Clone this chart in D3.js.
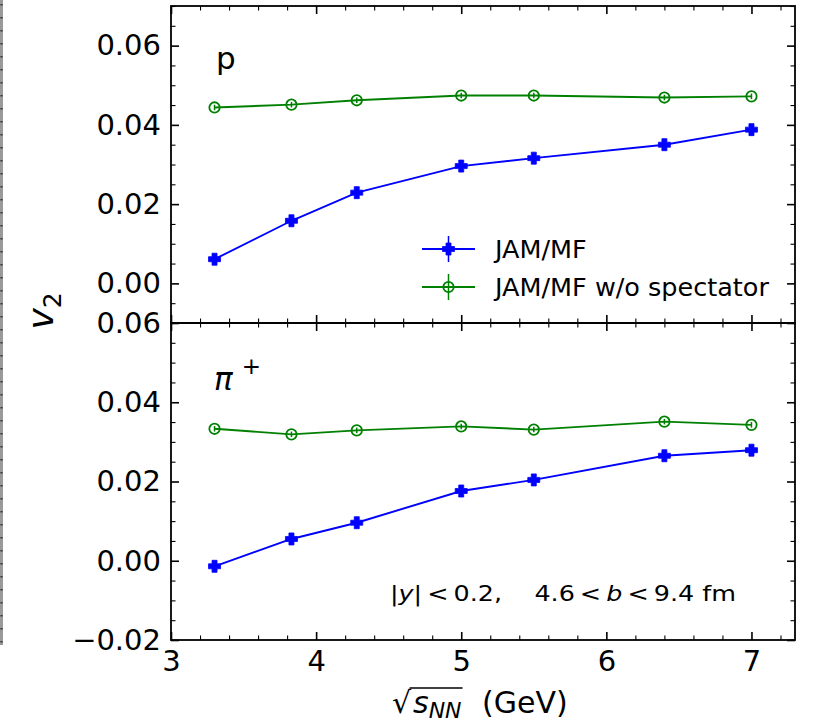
<!DOCTYPE html>
<html><head><meta charset="utf-8">
<script src="https://cdn.jsdelivr.net/npm/d3@7"></script>
<style>body{margin:0;background:#fff} text{font-family:"DejaVu Sans",sans-serif;fill:#000;white-space:pre}</style>
</head><body><svg id="c" width="813" height="725"></svg>
<script>
// ---- data ----
const energies = [3.3, 3.83, 4.28, 5.0, 5.5, 6.4, 7.0];
const protonMF = [0.0061, 0.0158, 0.0229, 0.0296, 0.0316, 0.0350, 0.0388];
const protonNoSpec = [0.0444, 0.0451, 0.0462, 0.0474, 0.0474, 0.0469, 0.0472];
const pionMF = [-0.0014, 0.0055, 0.0096, 0.0176, 0.0204, 0.0265, 0.0279];
const pionNoSpec = [0.0333, 0.0319, 0.0329, 0.0339, 0.0331, 0.0351, 0.0343];
const errProtonMF = [0.0006, 0.0006, 0.0006, 0.0006, 0.0006, 0.0006, 0.0006];
const errProtonNoSpec = [0.0007, 0.0007, 0.0007, 0.0007, 0.0007, 0.0007, 0.0007];
const errPionMF = [0.0006, 0.0006, 0.0006, 0.0006, 0.0006, 0.0006, 0.0006];
const errPionNoSpec = [0.0007, 0.0007, 0.0007, 0.0007, 0.0007, 0.0007, 0.0007];
const xTicks = [3, 4, 5, 6, 7];
const yTicksTop = [0.00, 0.02, 0.04, 0.06];
const yTicksBottom = [-0.02, 0.00, 0.02, 0.04, 0.06];
const seriesNames = ["JAM/MF", "JAM/MF w/o spectator"];
const blue = "#0000ff", green = "#008000";

const svg = d3.select("#c");
const L = 171, R = 795, T = 6, M = 323, B = 640;

const x = d3.scaleLinear().domain([3, 7.3]).range([L, R]);
const yTop = d3.scaleLinear().domain([-0.01, 0.07]).range([M, T]);
const yBot = d3.scaleLinear().domain([-0.02, 0.06]).range([B, M]);

// left page-edge gray line
svg.append("line").attr("x1", 1.5).attr("x2", 1.5).attr("y1", 0).attr("y2", 645)
  .attr("stroke", "#9a9a9a").attr("stroke-width", 3);
svg.append("line").attr("x1", 1.5).attr("x2", 1.5).attr("y1", 4).attr("y2", 645)
  .attr("stroke", "#333").attr("stroke-width", 2).attr("stroke-dasharray", "1.5,11.5");

const fmt = d3.format(".2f");
const fmtMinus = v => fmt(v).replace("-", "\u2212");

function styleAxis(g, major) {
  g.select(".domain").remove();
  g.selectAll(".tick line").attr("stroke", "#000").attr("stroke-width", major ? 1.6 : 1.1);
  g.selectAll(".tick text").attr("font-size", 29).attr("font-family", "DejaVu Sans").attr("fill", "#000");
}

function panel(y, yTicks, showXLabels) {
  const [y0, y1] = y.range();
  const minorY = d3.range(Math.round(y.domain()[0] / 0.005), Math.round(y.domain()[1] / 0.005) + 1)
    .map(i => i * 0.005).filter(v => !yTicks.some(t => Math.abs(t - v) < 1e-9));
  const minorX = d3.range(15, 37).map(i => i * 0.2).filter(v => Math.abs(v - Math.round(v)) > 1e-9);
  svg.append("g").attr("transform", `translate(${L},0)`)
    .call(d3.axisLeft(y).tickValues(yTicks).tickSize(-8).tickSizeOuter(0).tickPadding(10).tickFormat(fmtMinus))
    .call(g => styleAxis(g, true));
  svg.append("g").attr("transform", `translate(${L},0)`)
    .call(d3.axisLeft(y).tickValues(minorY).tickSize(-4.5).tickSizeOuter(0).tickFormat(""))
    .call(g => styleAxis(g, false));
  svg.append("g").attr("transform", `translate(${R},0)`)
    .call(d3.axisRight(y).tickValues(yTicks).tickSize(-8).tickSizeOuter(0).tickFormat(""))
    .call(g => styleAxis(g, true));
  svg.append("g").attr("transform", `translate(${R},0)`)
    .call(d3.axisRight(y).tickValues(minorY).tickSize(-4.5).tickSizeOuter(0).tickFormat(""))
    .call(g => styleAxis(g, false));
  svg.append("g").attr("transform", `translate(0,${y0})`)
    .call(d3.axisBottom(x).tickValues(xTicks).tickSize(-8).tickSizeOuter(0).tickPadding(10)
      .tickFormat(showXLabels ? d3.format("d") : ""))
    .call(g => styleAxis(g, true));
  svg.append("g").attr("transform", `translate(0,${y0})`)
    .call(d3.axisBottom(x).tickValues(minorX).tickSize(-4.5).tickSizeOuter(0).tickFormat(""))
    .call(g => styleAxis(g, false));
  svg.append("g").attr("transform", `translate(0,${y1})`)
    .call(d3.axisTop(x).tickValues(xTicks).tickSize(-8).tickSizeOuter(0).tickFormat(""))
    .call(g => styleAxis(g, true));
  svg.append("g").attr("transform", `translate(0,${y1})`)
    .call(d3.axisTop(x).tickValues(minorX).tickSize(-4.5).tickSizeOuter(0).tickFormat(""))
    .call(g => styleAxis(g, false));
  svg.append("rect").attr("x", L).attr("y", y1).attr("width", R - L).attr("height", y0 - y1)
    .attr("fill", "none").attr("stroke", "#000").attr("stroke-width", 1.8);
}

const plusPath = (s, w) => {
  const a = s / 2, b = w / 2;
  return `M${-b},${-a}H${b}V${-b}H${a}V${b}H${b}V${a}H${-b}V${b}H${-a}V${-b}H${-b}Z`;
};

function drawSeries(y, vals, errs, color, kind) {
  const g = svg.append("g");
  const pts = energies.map((e, i) => [e, vals[i], errs[i]]);
  g.append("path").datum(pts)
    .attr("d", d3.line().x(d => x(d[0])).y(d => y(d[1])))
    .attr("fill", "none").attr("stroke", color).attr("stroke-width", 1.9);
  g.selectAll("line.err").data(pts).join("line").attr("class", "err")
    .attr("x1", d => x(d[0])).attr("x2", d => x(d[0]))
    .attr("y1", d => y(d[1] - d[2])).attr("y2", d => y(d[1] + d[2]))
    .attr("stroke", color).attr("stroke-width", 1.5);
  if (kind === "plus") {
    g.selectAll("path.m").data(pts).join("path").attr("class", "m")
      .attr("transform", d => `translate(${x(d[0])},${y(d[1])})`)
      .attr("d", plusPath(12, 5)).attr("fill", color).attr("stroke", color).attr("stroke-width", 0.8);
  } else {
    g.selectAll("circle.m").data(pts).join("circle").attr("class", "m")
      .attr("cx", d => x(d[0])).attr("cy", d => y(d[1])).attr("r", 5.2)
      .attr("fill", "none").attr("stroke", color).attr("stroke-width", 1.8);
  }
}

panel(yTop, yTicksTop, false);
panel(yBot, yTicksBottom, true);

drawSeries(yTop, protonMF, errProtonMF, blue, "plus");
drawSeries(yTop, protonNoSpec, errProtonNoSpec, green, "circle");
drawSeries(yBot, pionMF, errPionMF, blue, "plus");
drawSeries(yBot, pionNoSpec, errPionNoSpec, green, "circle");

// panel labels
svg.append("text").attr("x", 216).attr("y", 69).attr("font-size", 31).text("p");
const pi = svg.append("text").attr("x", 214).attr("y", 390).attr("font-size", 31);
pi.append("tspan").attr("font-style", "italic").text("\u03C0");
pi.append("tspan").attr("dx", 9).attr("dy", -16).attr("font-size", 23).text("+");

// legend
const legY = [249, 287];
const legColors = [blue, green];
legY.forEach((ly, i) => {
  const g = svg.append("g");
  g.append("line").attr("x1", 422).attr("x2", 475).attr("y1", ly).attr("y2", ly)
    .attr("stroke", legColors[i]).attr("stroke-width", 1.9);
  g.append("line").attr("x1", 448.5).attr("x2", 448.5).attr("y1", ly - 13).attr("y2", ly + 13)
    .attr("stroke", legColors[i]).attr("stroke-width", 1.5);
  if (i === 0) {
    g.append("path").attr("transform", `translate(448.5,${ly})`).attr("d", plusPath(12, 5))
      .attr("fill", blue).attr("stroke", blue).attr("stroke-width", 0.8);
  } else {
    g.append("circle").attr("cx", 448.5).attr("cy", ly).attr("r", 5.2)
      .attr("fill", "none").attr("stroke", green).attr("stroke-width", 1.8);
  }
  g.append("text").attr("x", 495).attr("y", ly + 9).attr("font-size", 25.5).text(seriesNames[i]);
});

// annotation
const ann = svg.append("text").attr("x", 390).attr("y", 601).attr("font-size", 22)
  .attr("textLength", 346).attr("lengthAdjust", "spacingAndGlyphs");
ann.append("tspan").text("|");
ann.append("tspan").attr("font-style", "italic").text("y");
ann.append("tspan").text("|\u2009<\u20090.2,\u00a0\u00a0\u00a0\u00a04.6\u2009<\u2009");
ann.append("tspan").attr("font-style", "italic").text("b");
ann.append("tspan").text("\u2009<\u20099.4 fm");

// y label
const yl = svg.append("text").attr("transform", "translate(53,311) rotate(-90)")
  .attr("text-anchor", "middle").attr("font-size", 36);
yl.append("tspan").attr("font-style", "italic").text("v");
yl.append("tspan").attr("dy", 8).attr("font-size", 25).text("2");

// x label
const xl = svg.append("text").attr("y", 713).attr("font-size", 30);
xl.append("tspan").attr("x", 392).text("\u221A");
xl.append("tspan").attr("x", 413).attr("font-style", "italic").text("s");
xl.append("tspan").attr("font-style", "italic").attr("font-size", 22).attr("dy", 5).text("NN");
xl.append("tspan").attr("x", 482).attr("dy", -5).text("(GeV)");
// overline of the radical
const xlNode = xl.node();
const radX0 = xlNode.getStartPositionOfChar(0).x + xlNode.getExtentOfChar(0).width - 1.5;
const radX1 = xlNode.getEndPositionOfChar(3).x + 1;
const radY = xlNode.getExtentOfChar(0).y + 3;
svg.append("line").attr("x1", radX0).attr("x2", radX1).attr("y1", radY).attr("y2", radY)
  .attr("stroke", "#000").attr("stroke-width", 1.4);
</script></body></html>
